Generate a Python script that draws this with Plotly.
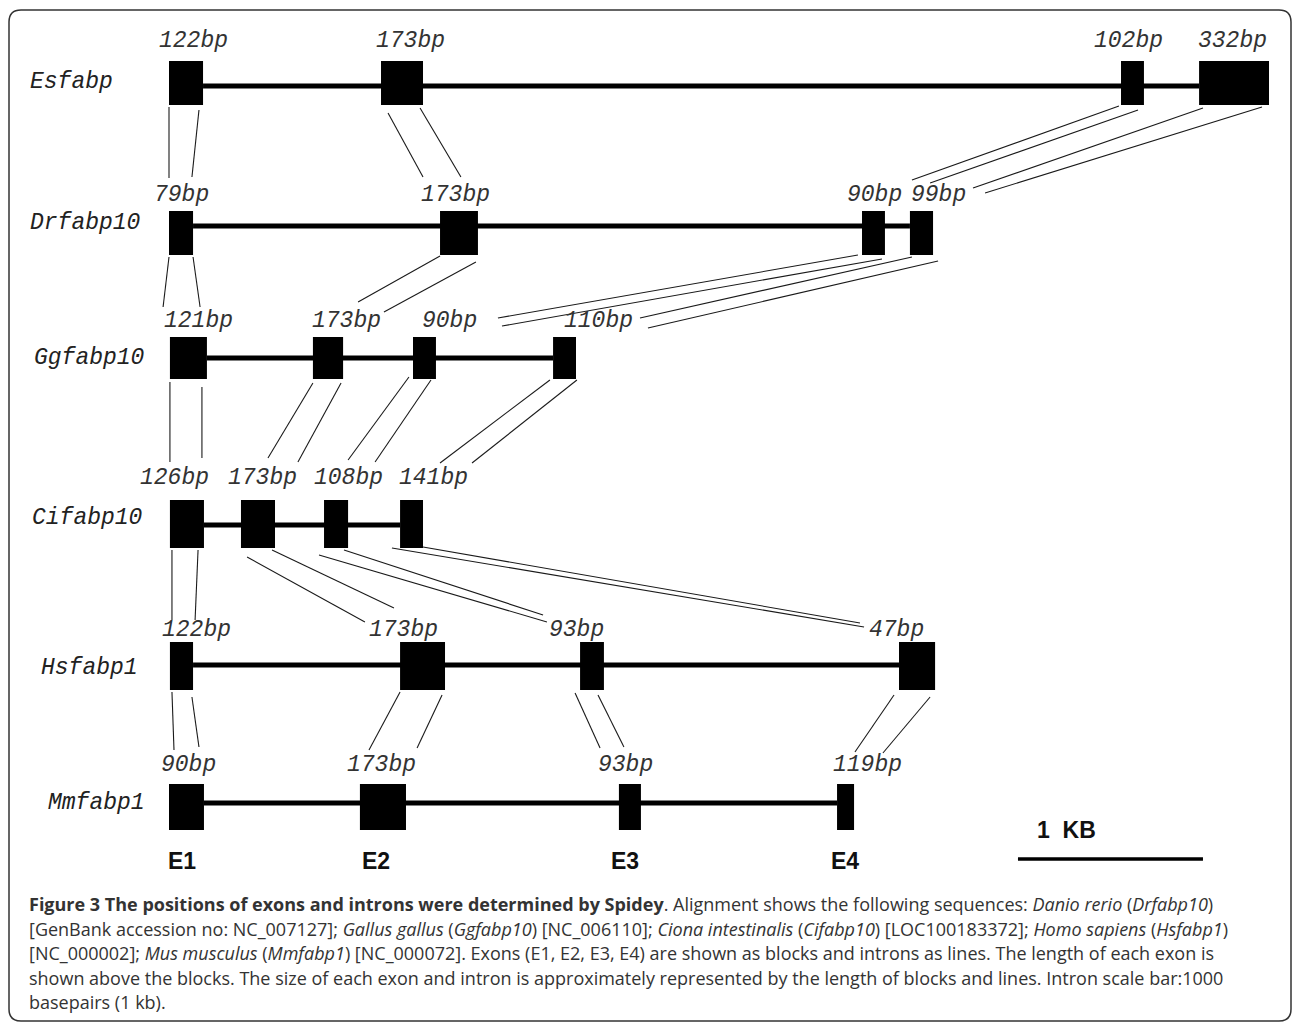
import plotly.graph_objects as go

# ---------------- data ----------------
genes = ["Esfabp", "Drfabp10", "Ggfabp10", "Cifabp10", "Hsfabp1", "Mmfabp1"]

# exon start / end positions along each gene, in kb (scale bar = 1 kb)
exon_start = [
    [0.000, 1.146, 5.146, 5.568],
    [0.000, 1.465, 3.746, 4.005],
    [0.005, 0.778, 1.319, 2.076],
    [0.005, 0.389, 0.838, 1.249],
    [0.005, 1.249, 2.222, 3.946],
    [0.000, 1.032, 2.432, 3.611],
]
exon_end = [
    [0.184, 1.373, 5.270, 5.946],
    [0.130, 1.670, 3.870, 4.130],
    [0.205, 0.941, 1.443, 2.200],
    [0.189, 0.573, 0.968, 1.373],
    [0.130, 1.492, 2.351, 4.141],
    [0.189, 1.281, 2.551, 3.703],
]
exon_bp = [
    ["122bp", "173bp", "102bp", "332bp"],
    ["79bp", "173bp", "90bp", "99bp"],
    ["121bp", "173bp", "90bp", "110bp"],
    ["126bp", "173bp", "108bp", "141bp"],
    ["122bp", "173bp", "93bp", "47bp"],
    ["90bp", "173bp", "93bp", "119bp"],
]
# where each exon-length label sits (kb)
bp_label_x = [
    [0.130, 1.308, 5.184, 5.746],
    [0.070, 1.546, 3.816, 4.162],
    [0.157, 0.957, 1.514, 2.319],
    [0.027, 0.503, 0.968, 1.432],
    [0.146, 1.265, 2.205, 3.930],
    [0.108, 1.151, 2.465, 3.773],
]
exon_names = ["E1", "E2", "E3", "E4"]
exon_name_x = [0.070, 1.119, 2.465, 3.654]
scale_bar_kb = [4.589, 5.589]
scale_label = "1\u00a0\u00a0KB"
scale_label_x = 4.854

# alignment links between homologous exons (top x kb, top y, bottom x kb, bottom y)
link_x0 = [0.000, 0.162, 1.184, 1.357, 5.135, 5.238, 5.589, 5.908,
           0.000, 0.130, 1.465, 1.659, 3.724, 3.854, 4.016, 4.157,
           0.005, 0.178, 0.778, 0.930, 1.297, 1.416, 2.059, 2.205,
           0.016, 0.157, 0.422, 0.557, 0.811, 0.946, 1.205, 1.373,
           0.016, 0.124, 1.249, 1.476, 2.195, 2.319, 3.919, 4.114]
link_y0 = [107, 110, 113, 108, 106, 110, 108, 107,
           257, 257, 256, 262, 255, 259, 257, 261,
           382, 387, 383, 383, 377, 380, 380, 380,
           550, 550, 557, 550, 555, 550, 548, 547,
           692, 697, 692, 695, 693, 695, 695, 697]
link_x1 = [0.000, 0.124, 1.373, 1.578, 4.016, 4.114, 4.346, 4.411,
           -0.032, 0.168, 1.022, 1.162, 1.778, 1.800, 2.546, 2.589,
           0.005, 0.178, 0.535, 0.697, 0.968, 1.114, 1.465, 1.638,
           0.016, 0.141, 1.059, 1.216, 2.043, 2.022, 3.757, 3.735,
           0.027, 0.162, 1.081, 1.341, 2.330, 2.459, 3.708, 3.859]
link_y1 = [178, 177, 177, 177, 180, 183, 188, 193,
           307, 307, 302, 312, 318, 326, 318, 328,
           462, 458, 458, 462, 460, 462, 463, 463,
           620, 620, 622, 608, 622, 615, 627, 623,
           750, 747, 750, 748, 748, 747, 752, 753]

caption_lines = [
    "<b>Figure 3 The positions of exons and introns were determined by Spidey</b>. "
    "Alignment shows the following sequences: <i>Danio rerio</i> (<i>Drfabp10</i>)",
    "[GenBank accession no: NC_007127]; <i>Gallus gallus</i> (<i>Ggfabp10</i>) [NC_006110]; "
    "<i>Ciona intestinalis</i> (<i>Cifabp10</i>) [LOC100183372]; <i>Homo sapiens</i> (<i>Hsfabp1</i>)",
    "[NC_000002]; <i>Mus musculus</i> (<i>Mmfabp1</i>) [NC_000072]. Exons (E1, E2, E3, E4) are shown "
    "as blocks and introns as lines. The length of each exon is",
    "shown above the blocks. The size of each exon and intron is approximately represented by the "
    "length of blocks and lines. Intron scale bar:1000",
    "basepairs (1 kb).",
]

# ---------------- layout of the tracks (vertical, in px units) ----------------
row_line_y = [86, 226, 358, 525, 665, 803]
row_top = [61, 211, 337, 500, 642, 784]
row_bot = [105, 255, 379, 548, 690, 830]
bp_label_y = [41, 195, 321, 478, 630, 765]
name_x = [-0.762, -0.762, -0.741, -0.751, -0.703, -0.665]
name_y = [82, 223, 358, 518, 668, 803]
exon_name_y = 861
scale_bar_y = 859
scale_label_y = 830
caption_y = [904, 928.5, 953, 977.5, 1002]

W, H = 1293, 1024
X0_PX, PX_PER_KB = 169, 185.0
x_range = [-X0_PX / PX_PER_KB, (W - X0_PX) / PX_PER_KB]

fig = go.Figure()
shapes = []
annotations = []

mono = "Liberation Mono"
for g in range(len(genes)):
    # intron backbone
    shapes.append(dict(type="line", xref="x", yref="y",
                       x0=exon_end[g][0], x1=exon_start[g][-1],
                       y0=row_line_y[g], y1=row_line_y[g],
                       line=dict(color="black", width=5)))
    for e in range(len(exon_start[g])):
        shapes.append(dict(type="rect", xref="x", yref="y",
                           x0=exon_start[g][e], x1=exon_end[g][e],
                           y0=row_top[g], y1=row_bot[g],
                           fillcolor="black", line=dict(width=0)))
        annotations.append(dict(x=bp_label_x[g][e], y=bp_label_y[g], xref="x", yref="y",
                                text=exon_bp[g][e], showarrow=False,
                                font=dict(family=mono, size=23, color="#333333", style="italic"),
                                xanchor="center", yanchor="middle"))
    annotations.append(dict(x=name_x[g], y=name_y[g], xref="x", yref="y",
                            text=genes[g], showarrow=False,
                            font=dict(family=mono, size=23, color="#222222", style="italic"),
                            xanchor="left", yanchor="middle"))

# links
lx, ly = [], []
for a, b, c, d in zip(link_x0, link_y0, link_x1, link_y1):
    lx += [a, c, None]
    ly += [b, d, None]
fig.add_trace(go.Scatter(x=lx, y=ly, mode="lines", line=dict(color="#1a1a1a", width=1.1),
                         hoverinfo="skip", showlegend=False))

# exon names
for n, xx in zip(exon_names, exon_name_x):
    annotations.append(dict(x=xx, y=exon_name_y, xref="x", yref="y", text=n, showarrow=False,
                            font=dict(family="Liberation Sans", size=23, color="#111111", weight="bold"),
                            xanchor="center", yanchor="middle"))

# scale bar
shapes.append(dict(type="line", xref="x", yref="y", x0=scale_bar_kb[0], x1=scale_bar_kb[1],
                   y0=scale_bar_y, y1=scale_bar_y, line=dict(color="black", width=3.5)))
annotations.append(dict(x=scale_label_x, y=scale_label_y,
                        xref="x", yref="y", text=scale_label, showarrow=False,
                        font=dict(family="Liberation Sans", size=23, color="#111111", weight="bold"),
                        xanchor="center", yanchor="middle"))

# frame with rounded corners (in axis units)
L, R = (9 - X0_PX) / PX_PER_KB, (1291 - X0_PX) / PX_PER_KB
T, B = 10, 1021
rx, ry = 12 / PX_PER_KB, 12
path = (f"M {L+rx},{T} L {R-rx},{T} Q {R},{T} {R},{T+ry} L {R},{B-ry} Q {R},{B} {R-rx},{B} "
        f"L {L+rx},{B} Q {L},{B} {L},{B-ry} L {L},{T+ry} Q {L},{T} {L+rx},{T} Z")
shapes.append(dict(type="path", xref="x", yref="y", path=path,
                   line=dict(color="#333333", width=1.5), fillcolor="rgba(0,0,0,0)"))

# caption
for txt, yy in zip(caption_lines, caption_y):
    annotations.append(dict(x=27 / W, y=yy, xref="paper", yref="y", text=txt, showarrow=False,
                            font=dict(family="Open Sans", size=18, color="#333333"),
                            xanchor="left", yanchor="middle", align="left"))

fig.update_layout(
    width=W, height=H, margin=dict(l=0, r=0, t=0, b=0),
    paper_bgcolor="white", plot_bgcolor="white",
    xaxis=dict(range=x_range, visible=False, fixedrange=True),
    yaxis=dict(range=[H, 0], visible=False, fixedrange=True),
    shapes=shapes, annotations=annotations, showlegend=False,
)

fig.write_html("out.html", config={"displayModeBar": False},
               post_script="document.body.style.margin='0';document.body.style.overflow='hidden';")
